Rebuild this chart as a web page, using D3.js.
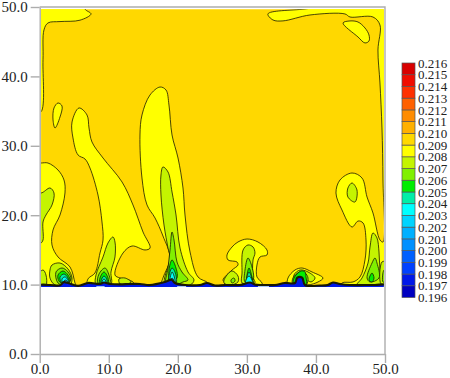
<!DOCTYPE html>
<html>
<head>
<meta charset="utf-8">
<script src="https://cdn.jsdelivr.net/npm/d3@7"></script>
<style>
  html, body { margin: 0; background: #fff; }
  svg { display: block; }
  text { font-family: "Liberation Serif", serif; fill: #222; }
</style>
</head>
<body>
<script>
// axis ticks
const axisTicks = [0, 10, 20, 30, 40, 50];

// colour bands, lowest first (0.196 - 0.197 ... 0.215 - 0.216)
const bandEdges = [0.196, 0.197, 0.198, 0.199, 0.200, 0.201, 0.202, 0.203, 0.204, 0.205, 0.206,
  0.207, 0.208, 0.209, 0.210, 0.211, 0.212, 0.213, 0.214, 0.215, 0.216];
const bandColors = ["#0000c0", "#0018e8", "#0040ff", "#0060ff", "#0090ff", "#00b0ff", "#00d4ff", "#00ffff", "#00eea8", "#00ee00",
  "#80f000", "#c4f400", "#ffff00", "#ffd800", "#ffb000", "#ff8c00", "#ff6000", "#ff3000", "#f00c00", "#d80000"];

// contour shapes, [x, y] in axis units
const topLeftEdge = [[6.56,50.6],[6.56,49.7],[7.43,49.0],[5.84,48.1],[2.94,47.9],[1.2,47.7],[0.62,46.7],[0.48,42.4],[0.19,34.9],[-0.7,34.9],[-0.7,50.6]];
const rightEdge = [[38.41,49.71],[50.7,50.6],[50.7,9.2],[43.6,9.2],[43.77,10.23],[45.37,10.38],[46.38,11.1],[47.1,13.55],[47.25,16.43],[46.82,18.88],[46.1,19.16],[45.22,18.3],[43.77,20.75],[42.9,23.2],[43.48,25.07],[45.22,26.08],[46.67,25.36],[47.4,22.62],[48.26,20.32],[49.27,16.43],[49.71,16.14],[49.71,25.07],[49.56,32.57],[49.27,39.05],[48.98,43.8],[49.27,47.41],[48.26,48.56],[44.93,48.56],[44.2,49.0],[39.14,48.85],[35.23,48.0],[33.78,48.13],[33.05,49.0]];
const topRightIsland = [[43.92,47.7],[44.93,47.99],[46.09,47.84],[47.1,46.98],[47.68,45.97],[47.68,45.1],[47.1,44.82],[46.09,45.68]];
const leftIsland = [[2.65,36.17],[3.23,35.74],[2.94,34.15],[2.22,32.57],[1.93,33.72],[2.07,35.45]];
const plumeA = [[5.69,35.45],[6.85,34.44],[7.14,32.57],[7.57,30.55],[9.17,28.24],[11.92,24.79],[13.51,21.47],[14.96,17.58],[15.98,15.27],[15.25,14.99],[13.37,15.56],[12.06,14.55],[10.9,11.38],[11.63,10.95],[13.51,10.38],[13.8,9.2],[6.99,9.2],[6.99,10.81],[8.0,11.67],[8.73,14.55],[9.17,16.43],[9.02,19.02],[8.44,22.91],[7.28,26.8],[6.56,28.1],[5.55,28.68],[4.82,31.13],[4.68,33.43]];
const leftYellow = [[-0.7,27.52],[0.19,27.52],[1.2,27.52],[2.65,26.51],[3.52,25.07],[3.66,23.2],[2.94,20.03],[1.93,17.87],[1.78,15.71],[2.65,13.98],[4.39,12.54],[5.11,10.23],[5.4,9.2],[-0.7,9.2]];
const leftLime = [[-0.7,23.63],[0.19,23.2],[1.49,23.92],[2.07,23.2],[1.78,21.47],[0.91,20.03],[0.48,19.02],[0.48,16.43],[0.19,16.0],[-0.7,16.0]];
const leftSmall = [[0.48,12.1],[0.91,11.38],[0.91,9.94],[0.19,9.94],[-0.54,10.95]];
const dome1a = [[1.49,12.1],[1.78,12.82],[2.94,13.11],[4.1,12.25],[4.68,10.95],[4.39,9.94],[2.22,9.94],[1.49,10.95]];
const dome1b = [[2.36,11.82],[3.23,12.39],[4.1,11.82],[4.53,10.81],[3.81,9.94],[2.65,10.23]];
const dome1c = [[2.65,11.38],[3.37,11.96],[4.1,11.38],[4.39,10.52],[3.66,9.94],[2.79,10.52]];
const dome1d = [[2.94,11.1],[3.52,11.53],[4.1,10.95],[4.24,10.23],[3.52,9.8],[3.08,10.38]];
const dome1e = [[3.23,10.81],[3.66,11.1],[4.1,10.66],[4.1,10.09],[3.52,9.8]];
const dome1f = [[3.52,10.52],[3.81,10.66],[4.1,10.23],[3.95,9.8],[3.52,9.8]];
const dome2a = [[10.61,16.86],[10.9,16.14],[10.9,13.98],[10.32,11.82],[10.32,10.09],[8.15,10.09],[8.15,11.38],[9.17,13.98],[9.89,16.0]];
const dome2b = [[9.46,12.39],[10.03,11.38],[10.18,10.23],[8.44,10.23],[8.59,11.53]];
const dome2c = [[9.31,11.82],[9.89,10.95],[9.89,10.09],[8.73,10.09],[8.73,10.95]];
const dome2d = [[9.31,11.24],[9.75,10.66],[9.6,9.94],[9.02,9.94],[8.88,10.52]];
const dome2e = [[9.31,10.81],[9.6,10.38],[9.46,9.94],[9.17,9.94],[9.02,10.38]];
const smallPatch = [[11.48,10.81],[12.35,10.95],[13.22,10.38],[12.64,10.09],[11.63,10.09]];
const tallYellow = [[17.42,38.47],[18.29,38.04],[18.72,35.88],[19.16,31.56],[20.03,28.24],[20.75,23.92],[21.04,20.03],[21.77,14.7],[22.92,11.1],[24.37,10.23],[24.66,9.2],[17.42,9.2],[17.85,10.95],[18.87,13.83],[17.85,17.0],[16.7,19.6],[15.54,21.47],[14.81,25.36],[14.52,31.56],[14.81,34.44],[15.97,37.32]];
const tallLime = [[17.85,26.95],[18.58,26.23],[19.16,23.34],[19.74,20.03],[20.32,15.27],[21.47,11.82],[22.34,10.66],[21.77,9.94],[18.14,9.94],[18.87,13.83],[18.58,15.27],[18.0,18.59],[17.56,22.91],[17.56,25.79]];
const tallB = [[19.16,17.58],[19.45,16.43],[19.88,13.26],[20.6,11.82],[21.47,10.66],[20.75,10.38],[19.74,9.94],[18.29,9.94],[18.58,12.39],[18.87,14.99]];
const tallC = [[19.16,13.55],[19.59,12.82],[19.88,10.95],[18.87,10.38],[18.72,12.1]];
const tallD = [[19.16,12.39],[19.59,11.82],[19.74,10.23],[18.72,10.23],[18.72,11.24]];
const tallE = [[19.16,11.82],[19.45,11.24],[19.59,10.09],[18.87,10.09]];
const tallF = [[19.16,10.95],[19.45,10.52],[19.45,9.8],[18.87,9.8]];
const mushYellow = [[30.02,16.57],[31.61,16.14],[32.91,14.99],[32.91,14.27],[31.9,13.98],[31.46,12.82],[31.46,11.1],[32.19,10.23],[32.19,9.2],[26.83,9.2],[26.83,10.23],[26.54,10.66],[27.85,12.1],[28.71,12.82],[28.57,13.26],[27.27,13.55],[27.12,14.27],[27.85,15.42],[28.71,16.14]];
const mushLime = [[30.16,15.71],[30.89,15.42],[31.17,14.55],[30.89,13.55],[30.89,11.1],[31.17,10.23],[29.3,10.23],[29.3,11.67],[29.45,14.99]];
const mushB = [[30.16,13.83],[30.74,12.54],[30.89,10.66],[29.73,10.38],[29.73,12.1]];
const mushC = [[30.31,12.39],[30.74,11.1],[30.89,10.23],[30.02,10.23],[30.02,11.38]];
const mushD = [[30.31,11.82],[30.74,10.81],[30.89,9.94],[30.02,9.94],[30.02,11.1]];
const mushE = [[30.31,11.24],[30.74,10.66],[30.89,9.94],[29.87,9.94],[29.87,10.66]];
const mushSideLime = [[26.83,10.95],[27.85,11.96],[28.71,11.24],[28.71,10.38],[27.56,9.94],[26.69,10.23]];
const mushSideB = [[27.7,10.66],[28.13,10.95],[28.28,10.52],[27.85,10.23]];
const dome3a = [[35.95,10.95],[36.96,12.1],[37.98,12.39],[39.43,11.82],[41.02,10.95],[40.3,10.38],[38.85,9.94],[35.95,9.94]];
const dome3b = [[36.82,11.38],[37.69,12.1],[38.85,11.82],[39.87,10.95],[39.29,10.38],[38.56,10.66],[38.27,9.94],[36.96,9.94]];
const dome3c = [[37.69,11.82],[38.42,11.67],[38.85,10.95],[38.56,9.94],[36.67,9.94],[36.67,10.95]];
const dome3d = [[37.83,11.96],[38.42,11.82],[38.56,11.1],[38.56,9.94],[36.82,9.94],[36.82,10.95]];
const rightIsland = [[45.22,24.64],[45.94,23.63],[45.65,21.9],[44.63,22.62],[44.63,23.92]];
const rightLime = [[48.26,17.44],[48.84,16.72],[49.13,14.7],[49.27,12.1],[49.56,9.94],[45.94,9.94],[46.67,10.95],[47.54,13.11],[47.83,15.42]];
const rightB = [[48.55,13.83],[48.84,13.11],[49.13,10.95],[47.83,10.38],[47.4,10.95],[48.12,13.11]];
const rightC = [[48.12,11.67],[48.41,10.95],[48.12,10.38],[47.69,10.66]];
const rightStripe = [[49.56,13.26],[50.15,13.26],[50.15,10.09],[49.42,10.09]];
const rightStripeB = [[49.85,12.1],[50.15,12.1],[50.15,10.38],[49.71,10.38]];
const baseBand = [[-0.7,9.0],[-0.25,9.87],[1.49,9.94],[2.94,9.9],[3.5,10.35],[4.2,10.2],[5.55,9.82],[6.99,10.23],[8.73,10.09],[9.3,10.3],[10.18,10.09],[11.63,10.02],[13.08,10.09],[14.52,10.09],[15.97,9.94],[18.14,10.38],[19.1,10.7],[19.59,10.23],[21.04,9.94],[23.2,9.94],[24.2,10.23],[25.38,9.87],[26.83,9.94],[29.0,9.94],[30.45,10.3],[31.2,10.0],[32.19,9.94],[34.07,9.94],[35.5,10.23],[36.96,10.23],[37.3,11.0],[38.0,11.0],[38.42,9.94],[40.58,9.87],[41.7,9.94],[42.47,10.3],[43.48,10.09],[44.93,9.94],[47.1,9.94],[48.55,9.94],[50.3,9.94],[50.7,9.0]];

// pale spots along the lower edge, [from x, to x]
const edgeSpots = [[8.2, 9.4], [19.9, 21.2], [31.6, 33.2]];

// painting order: outermost first. level is the mid value of the band
const contourLevels = [0.2085, 0.2085, 0.2085, 0.2085, 0.2085, 0.2085, 0.2085, 0.2085,
  0.2075, 0.2075, 0.2075, 0.2065, 0.2055, 0.2045, 0.2035, 0.2015,
  0.2075, 0.2065, 0.2055, 0.2045, 0.2035, 0.2075,
  0.2075, 0.2065, 0.2055, 0.2045, 0.2035, 0.2015,
  0.2075, 0.2065, 0.2055, 0.2045, 0.2035, 0.2075, 0.2065,
  0.2085, 0.2075, 0.2065, 0.2055,
  0.2075, 0.2075, 0.2065, 0.2055, 0.2075, 0.2065, 0.1975];
const contourShapes = [topLeftEdge, rightEdge, topRightIsland, leftIsland, plumeA, leftYellow, tallYellow, mushYellow,
  leftLime, leftSmall, dome1a, dome1b, dome1c, dome1d, dome1e, dome1f,
  dome2a, dome2b, dome2c, dome2d, dome2e, smallPatch,
  tallLime, tallB, tallC, tallD, tallE, tallF,
  mushLime, mushB, mushC, mushD, mushE, mushSideLime, mushSideB,
  dome3a, dome3b, dome3c, dome3d,
  rightIsland, rightLime, rightB, rightC, rightStripe, rightStripeB, baseBand];

const width = 450, height = 378;
const svg = d3.select("body").append("svg").attr("width", width).attr("height", height);

const x = d3.scaleLinear().domain([0, 50]).range([39.7, 385]);
const y = d3.scaleLinear().domain([0, 50]).range([354, 7]);

const color = d3.scaleThreshold().domain(bandEdges.slice(1, -1)).range(bandColors);

// the coloured part of the grid stops just inside the frame
svg.append("clipPath").attr("id", "grid")
  .append("rect")
  .attr("x", x(0.2)).attr("y", y(49.67))
  .attr("width", x(49.83) - x(0.2)).attr("height", y(9.65) - y(49.67));

const field = svg.append("g").attr("clip-path", "url(#grid)");

field.append("rect")
  .attr("x", x(0)).attr("y", y(50))
  .attr("width", x(50) - x(0)).attr("height", y(0) - y(50))
  .attr("fill", color(0.2095));

const outline = d3.line()
  .x(d => x(d[0]))
  .y(d => y(d[1]))
  .curve(d3.curveCatmullRomClosed.alpha(0.5));

field.selectAll("path.contour")
  .data(contourShapes)
  .enter().append("path")
  .attr("class", "contour")
  .attr("d", outline)
  .attr("fill", (d, i) => color(contourLevels[i]))
  .attr("stroke", "#1a1a00")
  .attr("stroke-width", (d, i) => contourLevels[i] < 0.198 ? 2.2 : 0.8);

field.selectAll("rect.spot")
  .data(edgeSpots)
  .enter().append("rect")
  .attr("class", "spot")
  .attr("x", d => x(d[0]))
  .attr("width", d => x(d[1]) - x(d[0]))
  .attr("y", y(9.8))
  .attr("height", y(9.65) - y(9.8))
  .attr("fill", "#a8c8ff");

// frame and axes
const xAxis = d3.axisBottom(x).tickValues(axisTicks).tickFormat(d3.format(".1f")).tickSize(9).tickSizeOuter(0).tickPadding(0);
const yAxis = d3.axisLeft(y).tickValues(axisTicks).tickFormat(d3.format(".1f")).tickSize(9).tickSizeOuter(0);

const frame = "#adadad";
svg.append("g").attr("transform", `translate(0,${y(0)})`).call(xAxis);
svg.append("g").attr("transform", `translate(${x(0)},0)`).call(yAxis);
svg.append("path")
  .attr("d", `M${x(0)},${y(50)}H${x(50)}V${y(0)}`)
  .attr("fill", "none").attr("stroke", frame).attr("stroke-width", 1.4);

svg.selectAll(".tick line, .domain").attr("stroke", frame).attr("stroke-width", 1.4);
svg.selectAll(".tick text").attr("font-size", 15).attr("font-family", "Liberation Serif");

// colour bar
const barScale = d3.scaleLinear().domain([0.196, 0.216]).range([297.5, 63]);
const bar = svg.append("g").attr("transform", "translate(402,0)");

bar.selectAll("rect")
  .data(bandColors)
  .enter().append("rect")
  .attr("x", 0)
  .attr("width", 13)
  .attr("y", (d, i) => barScale(bandEdges[i + 1]))
  .attr("height", (d, i) => barScale(bandEdges[i]) - barScale(bandEdges[i + 1]))
  .attr("fill", d => d)
  .attr("stroke", "#555")
  .attr("stroke-width", 0.7);

const barAxis = d3.axisRight(barScale).tickValues(bandEdges).tickFormat(d3.format(".3f")).tickSize(0).tickPadding(16);
bar.append("g").call(barAxis).call(g => g.select(".domain").remove())
  .selectAll("text").attr("font-size", 13).attr("font-family", "Liberation Serif");
</script>
</body>
</html>
